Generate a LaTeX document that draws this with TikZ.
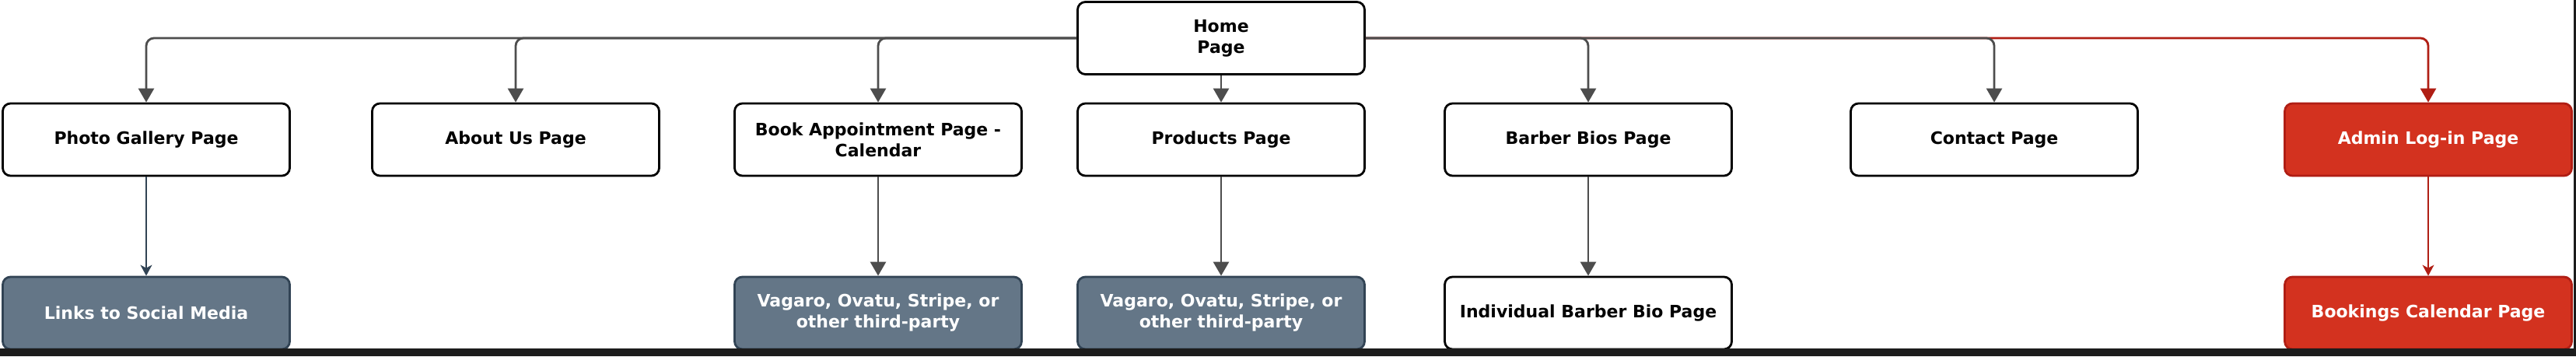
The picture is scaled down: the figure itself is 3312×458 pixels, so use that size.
\documentclass[tikz,border=0pt]{standalone}
\usepackage{fontspec}
\setmainfont{DejaVu Sans}
\usetikzlibrary{arrows.meta}
\definecolor{slatefill}{HTML}{647687}
\definecolor{slateline}{HTML}{314354}
\definecolor{redfill}{HTML}{D3321F}
\definecolor{redline}{HTML}{B01E14}
\definecolor{wire}{HTML}{4D4D4D}
\definecolor{framecol}{HTML}{1C1C1C}
\begin{document}
\begin{tikzpicture}[x=1pt,y=-1pt,
  page/.style={draw=black, line width=2.8pt, rounded corners=10pt,
    minimum width=369pt, minimum height=93pt, fill=white,
    font=\bfseries\fontsize{22}{27}\selectfont, align=center, inner sep=0pt},
  slatebox/.style={page, fill=slatefill, draw=slateline, text=white},
  redbox/.style={page, fill=redfill, draw=redline, text=white},
  link/.style={draw=wire, line width=2.8pt, rounded corners=10pt,
    -{Triangle[length=18pt,width=20pt]}},
  redlink/.style={link, draw=redline, -{Triangle[length=18pt,width=20pt]}},
  thinlink/.style={draw=slateline, line width=1.3pt,
    -{Stealth[length=14pt,width=15pt,inset=4pt]}},
  thinred/.style={thinlink, draw=redline},
]
\useasboundingbox (0,0) rectangle (3312,458);
\fill[white] (0,0) rectangle (3312,458);

% nodes
\node[page] (home) at (1570,49) {Home\\Page};
\node[page] (photo) at (188,179.5) {Photo Gallery Page};
\node[page] (about) at (663,179.5) {About Us Page};
\node[page] (book) at (1129,179.5) {Book Appointment Page -\\Calendar};
\node[page] (products) at (1570,179.5) {Products Page};
\node[page] (barber) at (2042,179.5) {Barber Bios Page};
\node[page] (contact) at (2564,179.5) {Contact Page};
\node[redbox] (admin) at (3122,179.5) {Admin Log-in Page};

\node[slatebox] (links) at (188,402.5) {Links to Social Media};
\node[slatebox] (vag1) at (1129,402.5) {Vagaro, Ovatu, Stripe, or\\other third-party};
\node[slatebox] (vag2) at (1570,402.5) {Vagaro, Ovatu, Stripe, or\\other third-party};
\node[page] (indiv) at (2042,402.5) {Individual Barber Bio Page};
\node[redbox] (bookings) at (3122,402.5) {Bookings Calendar Page};

% connectors
\draw[redlink] (home.east) -| (admin.north);
\draw[link] (home.east) -| (contact.north);
\draw[link] (home.east) -| (barber.north);
\draw[link] (home.west) -| (photo.north);
\draw[link] (home.west) -| (about.north);
\draw[link] (home.west) -| (book.north);
\draw[link] (home.south) -- (products.north);

\draw[thinlink] (photo.south) -- (links.north);
\draw[link] (book.south) -- (vag1.north);
\draw[link] (products.south) -- (vag2.north);
\draw[link] (barber.south) -- (indiv.north);
\draw[thinred] (admin.south) -- (bookings.north);

% screenshot frame
\fill[framecol] (0,448) rectangle (3312,458);
\fill[framecol] (3309,0) rectangle (3312,458);
\end{tikzpicture}
\end{document}
